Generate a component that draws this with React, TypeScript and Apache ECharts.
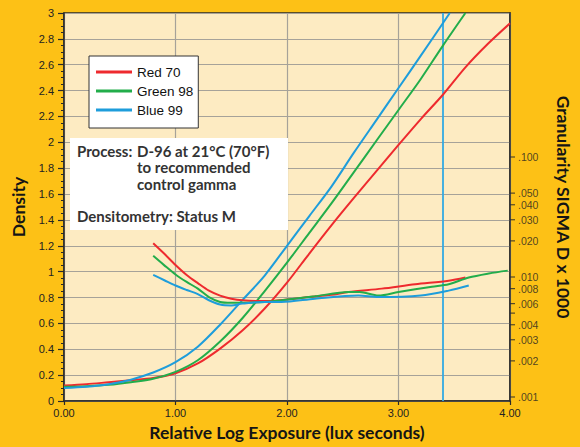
import React, { useEffect, useRef } from "react";
import * as echarts from "echarts";

// ---- Data ----
const seriesNames = ["Red 70", "Green 98", "Blue 99"];

// Characteristic curves: [log exposure, density]
const densityRed: [number, number][] = [
  [0, 0.12], [0.2, 0.13], [0.4, 0.145], [0.6, 0.16], [0.8, 0.178], [1.0, 0.215],
  [1.2, 0.29], [1.4, 0.405], [1.6, 0.545], [1.8, 0.715], [2.0, 0.915], [2.2, 1.14],
  [2.4, 1.36], [2.6, 1.57], [2.8, 1.775], [3.0, 1.98], [3.2, 2.18], [3.4, 2.37],
  [3.6, 2.58], [3.8, 2.76], [4.0, 2.92],
];
const densityGreen: [number, number][] = [
  [0, 0.11], [0.2, 0.115], [0.4, 0.125], [0.6, 0.145], [0.8, 0.172], [1.0, 0.225],
  [1.2, 0.315], [1.4, 0.46], [1.6, 0.64], [1.8, 0.85], [2.0, 1.07], [2.2, 1.3],
  [2.4, 1.53], [2.6, 1.77], [2.8, 2.01], [3.0, 2.25], [3.2, 2.49], [3.4, 2.75],
  [3.6, 3.0],
];
const densityBlue: [number, number][] = [
  [0, 0.1], [0.2, 0.11], [0.4, 0.13], [0.6, 0.165], [0.8, 0.22], [1.0, 0.3],
  [1.2, 0.42], [1.4, 0.59], [1.6, 0.78], [1.8, 0.97], [2.0, 1.2], [2.2, 1.43],
  [2.4, 1.66], [2.6, 1.92], [2.8, 2.17], [3.0, 2.42], [3.2, 2.67], [3.46, 3.0],
];

// Granularity curves: [log exposure, sigma D]
const granRed: [number, number][] = [
  [0.8, 0.0191], [0.9, 0.0156], [1.0, 0.0126], [1.1, 0.0104], [1.2, 0.0089],
  [1.3, 0.0077], [1.4, 0.007], [1.5, 0.0066], [1.6, 0.0064], [1.8, 0.0063],
  [2.0, 0.0065], [2.2, 0.0068], [2.4, 0.0071], [2.55, 0.0075], [2.85, 0.008],
  [3.15, 0.0087], [3.45, 0.0093], [3.6, 0.0099],
];
const granGreen: [number, number][] = [
  [0.8, 0.015], [0.9, 0.0125], [1.0, 0.0105], [1.1, 0.0091], [1.2, 0.008],
  [1.3, 0.0068], [1.4, 0.0062], [1.5, 0.0061], [1.6, 0.0061], [1.8, 0.0062],
  [1.95, 0.0064], [2.25, 0.0069], [2.55, 0.0075], [2.65, 0.0075], [2.82, 0.007],
  [3.0, 0.0075], [3.3, 0.0083], [3.45, 0.0087], [3.63, 0.0099], [3.81, 0.0107],
  [3.98, 0.0113],
];
const granBlue: [number, number][] = [
  [0.8, 0.0104], [0.9, 0.0094], [1.0, 0.0085], [1.1, 0.0078], [1.2, 0.0072],
  [1.3, 0.0064], [1.4, 0.0059], [1.5, 0.0058], [1.6, 0.006], [1.8, 0.0062],
  [1.95, 0.0062], [2.25, 0.0066], [2.64, 0.007], [2.82, 0.0068], [3.2, 0.007],
  [3.45, 0.0077], [3.63, 0.0085],
];

const blueMarkerX = 3.4;

// Bottom axis labelled ticks
const exposureTickValues = [0, 1, 2, 3, 4];

// Right axis (granularity, log) ticks
const granTickValues = [0.1, 0.05, 0.04, 0.03, 0.02, 0.01, 0.008, 0.006, 0.005, 0.004, 0.003, 0.002, 0.001];
const granTickLabels = [".100", ".050", ".040", ".030", ".020", ".010", ".008", ".006", "", ".004", ".003", ".002", ".001"];
const granAxisMin = 0.000926;
const granAxisMax = 1.585;

const processLines = ["D-96 at 21°C (70°F)", "to recommended", "control gamma"];

// ---- Styles ----
const BG = "#FDC116";
const PLOT_BG = "#FDEBC2";
const GRID = "#A6A299";
const AXIS = "#2a2a2a";
const COLORS = ["#EE2A2E", "#22AD4B", "#1E9DDB"];
const TITLE_FONT = "Lato";
const LABEL_FONT = "Liberation Sans";

export default function App() {
  const ref = useRef<HTMLDivElement>(null);

  useEffect(() => {
    document.body.style.margin = "0";
    const chart = echarts.init(ref.current!, null, { renderer: "svg" });

    const densities = [densityRed, densityGreen, densityBlue];
    const grans = [granRed, granGreen, granBlue];

    const lineSeries: any[] = [];
    densities.forEach((d, i) => {
      const s: any = {
        name: seriesNames[i],
        type: "line",
        data: d,
        xAxisIndex: 0,
        yAxisIndex: 0,
        smooth: 0.3,
        showSymbol: false,
        symbol: "none",
        lineStyle: { color: COLORS[i], width: 2 },
        itemStyle: { color: COLORS[i] },
        z: 3,
      };
      if (i === 2) {
        s.markLine = {
          silent: true,
          symbol: ["none", "none"],
          label: { show: false },
          lineStyle: { color: "#33AAE2", width: 1.8, type: "solid", opacity: 1 },
          data: [{ xAxis: blueMarkerX }],
          z: 2,
        };
      }
      lineSeries.push(s);
    });
    grans.forEach((d, i) => {
      lineSeries.push({
        name: seriesNames[i] + " granularity",
        type: "line",
        data: d,
        xAxisIndex: 0,
        yAxisIndex: 1,
        smooth: 0.3,
        showSymbol: false,
        symbol: "none",
        lineStyle: { color: COLORS[i], width: 2 },
        itemStyle: { color: COLORS[i] },
        z: 3,
      });
    });

    lineSeries.push({
      name: "granularity ticks",
      type: "scatter",
      xAxisIndex: 0,
      yAxisIndex: 1,
      clip: false,
      silent: true,
      symbol: "rect",
      symbolSize: [5, 1.2],
      symbolOffset: [2.5, 0],
      itemStyle: { color: AXIS },
      z: 6,
      label: {
        show: true,
        position: "right",
        distance: 3,
        fontSize: 10.5,
        fontFamily: LABEL_FONT,
        color: "#222",
        formatter: (p: any) => granTickLabels[p.dataIndex],
      },
      data: granTickValues.map((v) => [4, v]),
    });

    const option: any = {
      animation: false,
      backgroundColor: BG,
      grid: {
        left: 64,
        right: 69,
        top: 13,
        bottom: 46,
        show: true,
        backgroundColor: PLOT_BG,
        borderColor: AXIS,
        borderWidth: 1.5,
      },
      legend: {
        data: seriesNames,
        orient: "vertical",
        left: 89,
        top: 56,
        backgroundColor: "#ffffff",
        borderColor: "#333",
        borderWidth: 1,
        padding: [9, 5, 11, 7],
        itemGap: 5,
        itemWidth: 36,
        itemHeight: 3,
        icon: "rect",
        selectedMode: false,
        textStyle: { fontFamily: LABEL_FONT, fontSize: 13.5, color: "#111", lineHeight: 14 },
        z: 10,
      },
      xAxis: {
        type: "value",
        min: 0,
        max: 4,
        interval: 0.2,
        name: "Relative Log Exposure (lux seconds)",
        nameLocation: "middle",
        nameGap: 22,
        nameTextStyle: { fontFamily: TITLE_FONT, fontWeight: "bold", fontSize: 17.5, color: "#151515" },
        axisLine: { show: true, lineStyle: { color: AXIS, width: 1.5 } },
        axisTick: { show: true, length: 4, customValues: exposureTickValues, lineStyle: { color: AXIS, width: 1.2 } },
        axisLabel: {
          fontFamily: LABEL_FONT,
          fontSize: 11,
          color: "#222",
          margin: 6,
          formatter: (v: number) => (Math.abs(v - Math.round(v)) < 1e-6 ? v.toFixed(2) : ""),
        },
        splitLine: { show: true, lineStyle: { color: GRID, width: 1.2 } },
      },
      yAxis: [
        {
          type: "value",
          min: 0,
          max: 3,
          interval: 0.2,
          name: "Density",
          nameLocation: "middle",
          nameRotate: 90,
          nameGap: 31,
          nameTextStyle: { fontFamily: TITLE_FONT, fontWeight: "bold", fontSize: 17.5, color: "#151515" },
          axisLine: { show: true, lineStyle: { color: AXIS, width: 1.5 } },
          axisTick: { show: true, length: 6, lineStyle: { color: AXIS, width: 1.2 } },
          minorTick: { show: true, splitNumber: 4, length: 3, lineStyle: { color: AXIS, width: 1 } },
          axisLabel: { fontFamily: LABEL_FONT, fontSize: 11, color: "#222", margin: 10 },
          splitLine: { show: true, lineStyle: { color: GRID, width: 1.2 } },
        },
        {
          type: "log",
          logBase: 10,
          min: granAxisMin,
          max: granAxisMax,
          position: "right",
          name: "Granularity SIGMA D x 1000",
          nameLocation: "middle",
          nameRotate: -90,
          nameGap: 44,
          nameTextStyle: { fontFamily: TITLE_FONT, fontWeight: "bold", fontSize: 17.5, color: "#151515" },
          axisLine: { show: true, lineStyle: { color: AXIS, width: 1.5 } },
          axisTick: { show: false },
          axisLabel: { show: false },
          splitLine: { show: false },
          minorTick: { show: false },
        },
      ],
      graphic: [
        {
          type: "group",
          left: 70,
          top: 138,
          z: 100,
          children: [
            { type: "rect", shape: { x: 0, y: 0, width: 218, height: 92 }, style: { fill: "#ffffff" }, z: 100 },
            {
              type: "text",
              x: 7,
              y: 13,
              z: 101,
              style: { text: "Process:", fontFamily: TITLE_FONT, fontWeight: "bold", fontSize: 15, fill: "#333", verticalAlign: "middle" },
            },
            ...processLines.map((t, i) => ({
              type: "text",
              x: 67,
              y: 13 + i * 16.3,
              z: 101,
              style: { text: t, fontFamily: TITLE_FONT, fontWeight: "bold", fontSize: 15, fill: "#333", verticalAlign: "middle" },
            })),
            {
              type: "text",
              x: 7,
              y: 78,
              z: 101,
              style: { text: "Densitometry: Status M", fontFamily: TITLE_FONT, fontWeight: "bold", fontSize: 15, fill: "#333", verticalAlign: "middle" },
            },
          ],
        },
      ],
      series: lineSeries,
    };

    chart.setOption(option);
    return () => chart.dispose();
  }, []);

  return <div ref={ref} style={{ width: 580, height: 447, background: BG }} />;
}
